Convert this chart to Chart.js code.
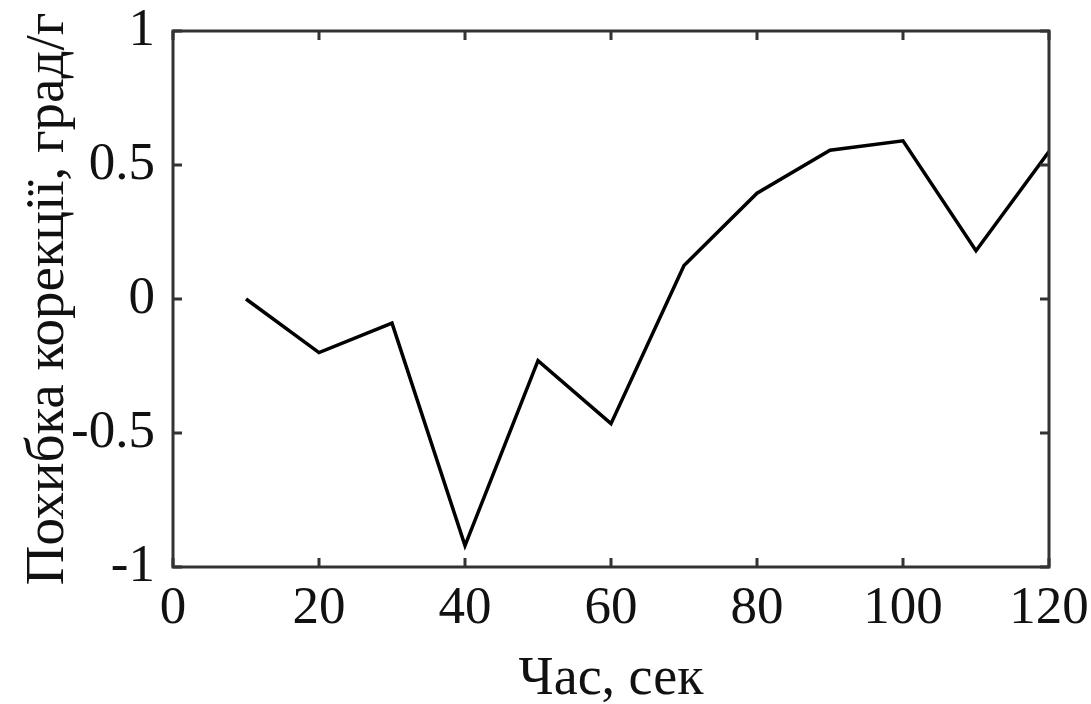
<!DOCTYPE html>
<html lang="uk">
<head>
<meta charset="UTF-8"/>
<title>Похибка корекції</title>
<script src="https://cdn.jsdelivr.net/npm/chart.js"></script>
<style>
    html, body {
        margin: 0;
        padding: 0;
        background: #fff;
        overflow: hidden;
    }
    .wrap {
        width: 1091px;
        height: 704px;
        position: relative;
    }
</style>
</head>
<body>
<div class="wrap">
    <canvas id="chart"></canvas>
</div>
<script>
    // час, сек
    const timeSec = [10, 20, 30, 40, 50, 60, 70, 80, 90, 100, 110, 120];
    // похибка корекції, град/г
    const errorVals = [0, -0.2, -0.09, -0.92, -0.23, -0.465, 0.125, 0.395, 0.555, 0.59, 0.18, 0.55];
    const xTicks = [0, 20, 40, 60, 80, 100, 120];
    const yTicks = [-1, -0.5, 0, 0.5, 1];

    const FONT = "'Liberation Serif', 'Times New Roman', serif";
    const AXIS_COLOR = '#333';

    // box around the plot with inward ticks on all sides (matlab style)
    const boxPlugin = {
        id: 'box',
        afterDraw(chart) {
            const { ctx, chartArea: a, scales } = chart;
            const len = 9;
            ctx.save();
            ctx.strokeStyle = AXIS_COLOR;
            ctx.lineWidth = 3;
            ctx.strokeRect(a.left, a.top, a.right - a.left, a.bottom - a.top);
            ctx.lineWidth = 3;
            ctx.beginPath();
            xTicks.forEach(v => {
                const x = scales.x.getPixelForValue(v);
                ctx.moveTo(x, a.bottom); ctx.lineTo(x, a.bottom - len);
                ctx.moveTo(x, a.top); ctx.lineTo(x, a.top + len);
            });
            yTicks.forEach(v => {
                const y = scales.y.getPixelForValue(v);
                ctx.moveTo(a.left, y); ctx.lineTo(a.left + len, y);
                ctx.moveTo(a.right, y); ctx.lineTo(a.right - len, y);
            });
            ctx.stroke();
            ctx.restore();
        }
    };

    new Chart(document.getElementById('chart'), {
        type: 'scatter',
        data: {
            datasets: [{
                data: timeSec.map((t, i) => ({ x: t, y: errorVals[i] })),
                showLine: true,
                borderColor: '#000',
                borderWidth: 3.5,
                pointRadius: 0,
                tension: 0
            }]
        },
        options: {
            responsive: true,
            maintainAspectRatio: false,
            animation: false,
            layout: { padding: { top: 31, right: 42, left: 0, bottom: 0 } },
            plugins: {
                legend: { display: false },
                tooltip: { enabled: false }
            },
            scales: {
                x: {
                    type: 'linear',
                    min: 0,
                    max: 120,
                    afterFit: s => {
                        s.height = 137;
                        s.paddingLeft = 0;
                        s.paddingRight = 0;
                    },
                    afterBuildTicks: s => { s.ticks = xTicks.map(v => ({ value: v })); },
                    grid: { display: false, drawTicks: false },
                    border: { display: false },
                    ticks: {
                        color: '#111',
                        padding: 10,
                        maxRotation: 0,
                        font: { family: FONT, size: 53 }
                    },
                    title: {
                        display: true,
                        text: 'Час, сек',
                        color: '#111',
                        padding: { top: 0, bottom: 0 },
                        font: { family: FONT, size: 54, lineHeight: 0.9 }
                    }
                },
                y: {
                    type: 'linear',
                    min: -1,
                    max: 1,
                    afterFit: s => {
                        s.width = 173;
                        s.paddingTop = 0;
                        s.paddingBottom = 0;
                    },
                    afterBuildTicks: s => { s.ticks = yTicks.map(v => ({ value: v })); },
                    grid: { display: false, drawTicks: false },
                    border: { display: false },
                    ticks: {
                        color: '#111',
                        padding: 18,
                        font: { family: FONT, size: 53 },
                        callback: v => String(v)
                    },
                    title: {
                        display: true,
                        text: 'Похибка корекції, град/г',
                        color: '#111',
                        padding: { top: 16, bottom: 0 },
                        font: { family: FONT, size: 55, lineHeight: 1.2 }
                    }
                }
            }
        },
        plugins: [boxPlugin]
    });
</script>
</body>
</html>
